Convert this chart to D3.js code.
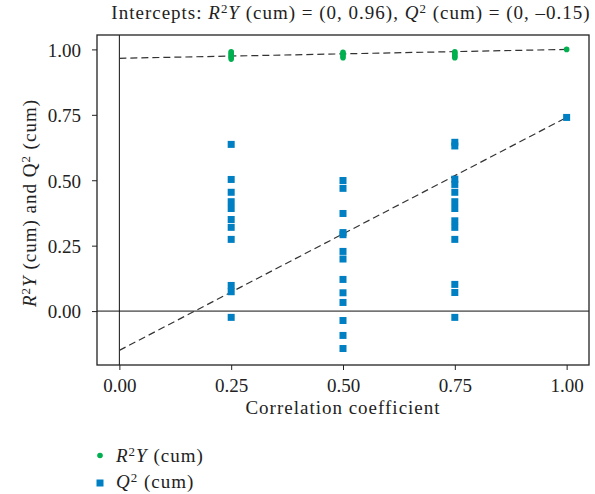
<!DOCTYPE html>
<html>
<head>
<meta charset="utf-8">
<script src="https://cdn.jsdelivr.net/npm/d3@7"></script>
<style>
  body { margin: 0; background: #fff; }
  svg { font-family: "Liberation Serif", "DejaVu Serif", serif; }
  .axis text { font-family: "Liberation Serif", "DejaVu Serif", serif; font-size: 19px; fill: #222; }
  .axis line { stroke: #222; }
  .label { font-size: 19px; fill: #222; letter-spacing: 1px; }
</style>
</head>
<body>
<svg class="chart"></svg>
<script>
// permutation test data (correlation coefficient vs R2Y / Q2)
var r2yX = [0.25, 0.25, 0.25, 0.25, 0.25, 0.25, 0.5, 0.5, 0.5, 0.5, 0.75, 0.75, 0.75, 0.75, 0.75, 1.0];
var r2yVals = [0.963, 0.97, 0.975, 0.98, 0.986, 0.991, 0.968, 0.975, 0.982, 0.989, 0.968, 0.974, 0.98, 0.986, 0.991, 1.0];

var q2X = [0.25, 0.25, 0.25, 0.25, 0.25, 0.25, 0.25, 0.25, 0.25, 0.25, 0.25,
           0.5, 0.5, 0.5, 0.5, 0.5, 0.5, 0.5, 0.5, 0.5, 0.5, 0.5, 0.5, 0.5,
           0.75, 0.75, 0.75, 0.75, 0.75, 0.75, 0.75, 0.75, 0.75, 0.75, 0.75, 0.75, 0.75,
           1.0];
var q2Vals = [0.637, 0.503, 0.454, 0.418, 0.392, 0.350, 0.320, 0.274, 0.098, 0.074, -0.024,
              0.499, 0.469, 0.373, 0.300, 0.292, 0.228, 0.199, 0.121, 0.070, 0.033, -0.036, -0.093, -0.143,
              0.645, 0.631, 0.504, 0.484, 0.454, 0.418, 0.392, 0.345, 0.320, 0.274, 0.102, 0.071, -0.024,
              0.74];

// regression lines: [x, y] at 0 and 1
var r2yLine = [[0, 0.966], [1, 1.0]];
var q2Line = [[0, -0.15], [1, 0.74]];

var xTicks = [0, 0.25, 0.5, 0.75, 1];
var yTicks = [0, 0.25, 0.5, 0.75, 1];

function show() {
    'use strict';

    var W = 595, H = 494;
    var margin = { top: 35, left: 97, right: 6, bottom: 129 },
        width = W - margin.left - margin.right,
        height = H - margin.top - margin.bottom;

    var green = '#00af4f', blue = '#0080c3';

    var svg = d3.select('.chart').attr('width', W).attr('height', H);
    var chart = svg.append('g')
        .attr('transform', 'translate(' + margin.left + ',' + margin.top + ')');

    var x = d3.scaleLinear().domain([-0.05, 1.05]).range([0, width]);
    var y = d3.scaleLinear().domain([-0.206, 1.055]).range([height, 0]);

    // reference lines at 0
    chart.append('line')
        .attr('x1', x(0)).attr('x2', x(0)).attr('y1', 0).attr('y2', height)
        .attr('stroke', '#111').attr('stroke-width', 1);
    chart.append('line')
        .attr('x1', 0).attr('x2', width).attr('y1', y(0)).attr('y2', y(0))
        .attr('stroke', '#111').attr('stroke-width', 1);

    var line = d3.line().x(function (d) { return x(d[0]); }).y(function (d) { return y(d[1]); });

    [r2yLine, q2Line].forEach(function (l) {
        chart.append('path')
            .attr('d', line(l))
            .attr('fill', 'none')
            .attr('stroke', '#333')
            .attr('stroke-width', 1.2)
            .attr('stroke-dasharray', '7,4');
    });

    // Q2 squares
    var s = 7;
    chart.selectAll('rect.q2').data(q2Vals).enter()
        .append('rect')
        .attr('class', 'q2')
        .attr('x', function (d, i) { return x(q2X[i]) - s / 2; })
        .attr('y', function (d) { return y(d) - s / 2; })
        .attr('width', s).attr('height', s)
        .attr('fill', blue);

    // R2Y circles
    chart.selectAll('circle.r2y').data(r2yVals).enter()
        .append('circle')
        .attr('class', 'r2y')
        .attr('cx', function (d, i) { return x(r2yX[i]); })
        .attr('cy', function (d) { return y(d); })
        .attr('r', 2.8)
        .attr('fill', green);

    // frame
    chart.append('rect')
        .attr('width', width).attr('height', height)
        .attr('fill', 'none').attr('stroke', '#222').attr('stroke-width', 1.3);

    var fmt = d3.format('.2f');
    var xAxis = chart.append('g').attr('class', 'axis')
        .attr('transform', 'translate(0,' + height + ')')
        .call(d3.axisBottom(x).tickValues(xTicks).tickFormat(fmt).tickSize(5).tickPadding(8.5));
    var yAxis = chart.append('g').attr('class', 'axis')
        .call(d3.axisLeft(y).tickValues(yTicks).tickFormat(fmt).tickSize(5).tickPadding(11));
    xAxis.select('.domain').remove();
    yAxis.select('.domain').remove();
    yAxis.selectAll('text').attr('dy', '0.36em');

    // helper for rich labels: parts = [text, style]
    function rich(sel, parts) {
        parts.forEach(function (p) {
            var t = sel.append('tspan').text(p[0]);
            if (p[1] === 'i') t.attr('font-style', 'italic');
            if (p[1] === 'sup') t.attr('font-size', '0.68em').attr('baseline-shift', '45%');
        });
        return sel;
    }

    rich(svg.append('text').attr('class', 'label')
        .attr('x', 351).attr('y', 19)
        .attr('text-anchor', 'middle'),
        [['Intercepts: '], ['R', 'i'], ['2', 'sup'], ['Y', 'i'], [' (cum) = (0, 0.96), '],
         ['Q', 'i'], ['2', 'sup'], [' (cum) = (0, \u20130.15)']]);

    svg.append('text').attr('class', 'label')
        .attr('x', margin.left + x(0.5)).attr('y', 414)
        .attr('text-anchor', 'middle')
        .text('Correlation coefficient');

    rich(svg.append('text').attr('class', 'label')
        .attr('transform', 'translate(36,203) rotate(-90)')
        .attr('text-anchor', 'middle'),
        [['R', 'i'], ['2', 'sup'], ['Y', 'i'], [' (cum) and Q'], ['2', 'sup'], [' (cum)']]);

    // legend
    svg.append('circle').attr('cx', 100).attr('cy', 455.5).attr('r', 2.8).attr('fill', green);
    svg.append('rect').attr('x', 96.5).attr('y', 479.5).attr('width', s).attr('height', s).attr('fill', blue);
    rich(svg.append('text').attr('class', 'label').attr('x', 116).attr('y', 462),
        [['R', 'i'], ['2', 'sup'], ['Y', 'i'], [' (cum)']]);
    rich(svg.append('text').attr('class', 'label').attr('x', 116).attr('y', 488),
        [['Q', 'i'], ['2', 'sup'], [' (cum)']]);
}

show();
</script>
</body>
</html>
